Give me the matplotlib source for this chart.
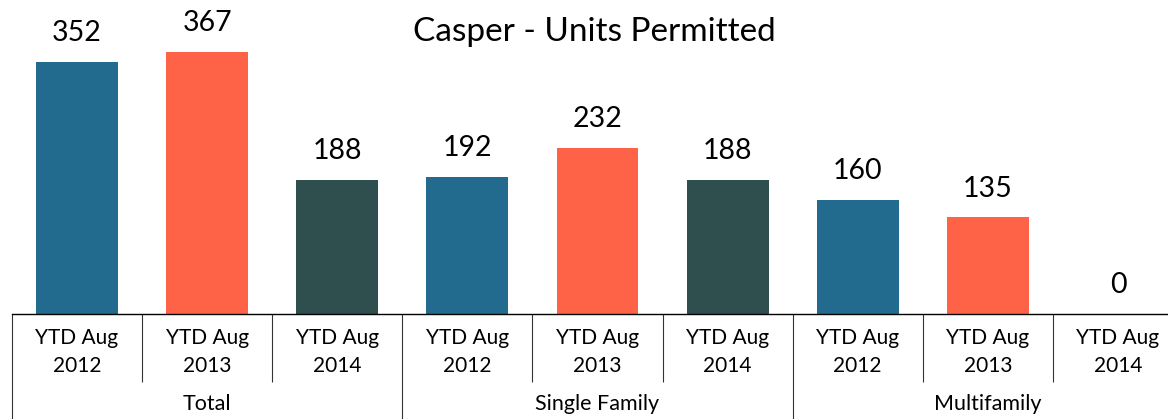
"""Casper - Units Permitted の棒グラフ (2段ラベル付き)."""

import matplotlib

matplotlib.use("Agg")

import matplotlib.pyplot as plt
import matplotlib.transforms as mtransforms

groups = ["Total", "Single Family", "Multifamily"]
periods = ["YTD Aug\n2012", "YTD Aug\n2013", "YTD Aug\n2014"]
total = [352, 367, 188]
single_family = [192, 232, 188]
multifamily = [160, 135, 0]

colors = ["#236B8E", "#FF6347", "#2F4F4F"]

plt.rcParams["font.family"] = ["Lato", "DejaVu Sans"]

W, H = 1168, 419
fig = plt.figure(figsize=(W / 100, H / 100), dpi=100)
ax = fig.add_axes([12 / W, (H - 314) / H, (1183 - 12) / W, 314 / H])

values = total + single_family + multifamily
n = len(values)
xs = list(range(n))
bars = ax.bar(xs, values, width=0.63,
              color=[colors[i % 3] for i in range(n)])

# 値ラベル
for bar, v in zip(bars, values):
    ax.annotate(f"{v}", (bar.get_x() + bar.get_width() / 2, v),
                xytext=(0, 11.5), textcoords="offset points",
                ha="center", va="bottom", fontsize=20.5)

ax.set_xlim(-0.5, n - 0.5)
ax.set_ylim(0, 314 / 0.715)
for s in ["left", "right", "top"]:
    ax.spines[s].set_visible(False)
ax.spines["bottom"].set_linewidth(1.0)
ax.set_yticks([])

# 区切り線 (目盛り線で描画)
bounds = [i - 0.5 for i in range(n + 1)]
major = [b for i, b in enumerate(bounds) if i % 3 == 0]
minor = [b for i, b in enumerate(bounds) if i % 3 != 0]
ax.set_xticks(major)
ax.set_xticks(minor, minor=True)
ax.set_xticklabels([])
ax.tick_params(axis="x", which="major", length=80, width=0.8, color="#333333")
ax.tick_params(axis="x", which="minor", length=49, width=0.8, color="#333333")

trans = mtransforms.blended_transform_factory(ax.transData, fig.transFigure)
for i in xs:
    ax.text(i, 1 - 352 / H, periods[i % 3], transform=trans,
            ha="center", va="center", fontsize=15, linespacing=1.45)
for g, name in enumerate(groups):
    ax.text(3 * g + 1, 1 - 404 / H, name, transform=trans,
            ha="center", va="center", fontsize=15.5)

fig.text(594 / W, 1 - 32 / H, "Casper - Units Permitted",
         ha="center", va="center", fontsize=24)

fig.savefig("out.png", dpi=100)
